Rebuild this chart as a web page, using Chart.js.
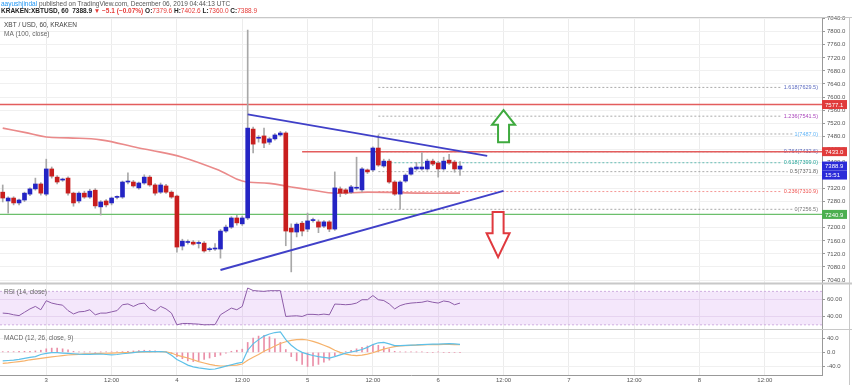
<!DOCTYPE html>
<html>
<head>
<meta charset="utf-8">
<script src="https://cdn.jsdelivr.net/npm/chart.js@4.4.0/dist/chart.umd.min.js"></script>
<style>
  html, body { margin: 0; padding: 0; background: #fff; }
  #wrap { position: relative; width: 852px; height: 385px; }
</style>
</head>
<body>
<div id="wrap"><canvas id="chart" width="852" height="385"></canvas></div>
<script>
// Hourly candles, Dec 2 16:00 -> Dec 6 04:00 (KRAKEN XBTUSD, 60)
const opens  = [7309,7282,7291,7276,7285,7303,7319,7334,7303,7380,7355,7346,7352,7306,7282,7306,7294,7315,7264,7282,7276,7293,7294,7340,7340,7322,7337,7355,7331,7309,7328,7309,7297,7144,7155,7156,7152,7153,7133,7135,7135,7190,7202,7230,7212,7230,7502,7474,7481,7462,7472,7484,7490,7199,7187,7214,7196,7222,7218,7205,7218,7196,7319,7316,7309,7321,7316,7377,7377,7444,7389,7404,7340,7303,7343,7364,7380,7380,7380,7404,7398,7380,7407,7401,7379.6];
const highs  = [7331,7295,7295,7288,7309,7322,7352,7338,7410,7386,7360,7352,7356,7309,7310,7312,7318,7320,7283,7286,7294,7298,7343,7368,7345,7340,7362,7360,7335,7337,7333,7313,7300,7165,7163,7161,7160,7158,7140,7152,7195,7208,7234,7238,7236,7805,7508,7482,7505,7476,7488,7495,7494,7212,7215,7220,7245,7230,7224,7222,7222,7371,7325,7320,7330,7416,7384,7380,7448,7484,7410,7410,7344,7344,7365,7386,7400,7430,7410,7410,7403,7416,7425,7406,7402.6];
const lows   = [7279,7245,7270,7270,7280,7298,7315,7300,7298,7352,7334,7342,7300,7266,7276,7290,7290,7260,7239,7264,7270,7288,7290,7334,7324,7318,7333,7327,7300,7305,7305,7290,7125,7132,7150,7147,7138,7125,7128,7131,7107,7186,7198,7208,7207,7225,7429,7462,7445,7455,7468,7480,7145,7065,7172,7175,7188,7217,7185,7200,7188,7192,7295,7302,7305,7316,7310,7366,7372,7388,7385,7336,7299,7257,7339,7361,7376,7376,7376,7390,7355,7376,7394,7370,7360.0];
const closes = [7291,7291,7276,7285,7306,7319,7334,7306,7380,7358,7340,7349,7306,7276,7306,7294,7312,7267,7279,7270,7291,7295,7340,7341,7328,7337,7355,7331,7306,7331,7309,7294,7141,7159,7157,7150,7154,7129,7136,7137,7190,7202,7230,7215,7230,7505,7456,7476,7459,7472,7484,7490,7190,7187,7211,7190,7221,7224,7202,7218,7196,7322,7306,7306,7325,7323,7380,7371,7444,7392,7404,7340,7303,7340,7361,7383,7386,7386,7404,7395,7380,7404,7398,7380,7388.9];

// MA(100, close) read at a few candles
const maIndex = [0,4,8,12,18,25,27,33,40,44,49,53,57,61,67,77,84];
const maValue = [7505,7492,7478,7475,7469,7444,7438,7416,7374,7343,7336,7325,7315,7306,7309,7306,7306];

const rsiValues = [44,43.5,42,41,45,49,52,48,58.8,56,54.5,53.5,47,43,45.5,46,48,42,44,44,45.5,47,54,55,52,55,56,49,46.5,52,49,44,30,31.6,31.6,31.2,30.8,30,30.2,30.2,42,46,50,48,52,74,71,70.4,70,70.8,70.8,70.8,40,40.5,40.8,40,42.5,42.5,42,42.8,42,54.8,54.5,54,54.5,56,60,60,65,60,59,55,49,53,55,56,56.5,57,58.5,57,56,58.5,57.5,54,56];
const macdLine  = [-24,-23,-22,-20,-17,-14,-12,-6,-3,-1,-1,-2,-3,-4,-5,-5.6,-5.5,-5,-4.7,-6,-7,-6,-4,-2.5,-0.5,1.5,2,2,2,2,1,-8,-20,-28,-36,-41,-44,-46,-48,-47,-43,-39,-35,-31,-28,6,24,36,46,52,56,58,36,20,8,0,-5,-9,-12,-14,-16,-12,-7,-2,1,4,8,14,22,27,28,24,19,19,20,20.5,21,22,22.5,23,23.5,24,24.5,24,22.5];
const signalLine = [-31,-30,-28,-26,-24,-21,-19,-17,-15,-13,-11,-9,-7.5,-6.5,-5.5,-4.5,-4,-3.5,-3,-2.5,-2,-1.5,-1,-0.5,0,0.5,1,1.5,1.8,1.9,1.5,-2,-8,-12,-16,-21,-26,-30,-34,-37,-38.5,-38,-37,-36,-33,-22,-14,-6,3,10,18,25,30,34,36,36.5,35,31,26,20,14,6,0,-5,-8,-9.5,-8,-5,-1,4,9,13,16,18,19,20,20.5,21,21.5,22,22,22.5,22.5,22,21.5];
const macdHist = [2,2,2,3,3,3,4,6,10,12,12,10,7,3,1,1,1,0,1,1,1,1,2,3,4,5,6,5,4,2,1,-3,-12,-18,-24,-26,-24,-20,-16,-12,-8,-2,3,6,9,28,40,46,48,44,38,28,8,-12,-24,-34,-40,-38,-34,-28,-22,-10,-2,2,6,10,14,18,22,20,16,10,3,1,1,1,1,1,0,0,1,0,0,0,0];

// Drawn levels and trendlines
const triUpper = [[45, 7547], [89, 7420]];
const triLower = [[40, 7071], [92, 7313]];
const fibLabels = ['1.618','1.236','1','0.764','0.618','0.5','0.236','0'];
const fibPrices = [7629.5, 7541.5, 7487.0, 7432.6, 7399.0, 7371.8, 7310.9, 7256.5];
const fibStart = 69;
const resistLevels = [7577.1, 7433.0];
const resistStart = [0, 55];
const supportLevel = 7240.9;
const lastPrice = 7388.9;
const rsiBand = [30, 70];
const upArrow = { index: 92, top: 7560, bottom: 7462 };
const downArrow = { index: 91, top: 7248, bottom: 7110 };

// Axis
const priceMin = 7031, priceMax = 7845;
const rsiTicks = [40, 60];
const macdTicks = [-40, 0, 40];
const tickIndex = [8, 20, 32, 44, 56, 68, 80, 92, 104, 116, 128, 140];
const tickText  = ['3','12:00','4','12:00','5','12:00','6','12:00','7','12:00','8','12:00'];

const categories = [];
for (let i = 0; i < 151; i++) {
  const h = 16 + i;
  categories.push('Dec ' + (2 + Math.floor(h / 24)) + ' ' + String(h % 24).padStart(2, '0') + ':00');
}

const BLUE = '#2424c4', RED = '#c81e1e';
const FONT = '"Liberation Sans", Arial, sans-serif';
const candleColors = closes.map((c, i) => c >= opens[i] ? BLUE : RED);
const pts = arr => arr.map(p => ({ x: categories[p[0]], y: p[1] }));

const overlay = {
  id: 'overlay',
  beforeDatasetsDraw(chart) {
    const { ctx, chartArea: a, scales } = chart;
    const x = scales.x, y = scales.y, r = scales.yRsi;
    ctx.save();
    // RSI band
    const bt = r.getPixelForValue(rsiBand[1]), bb = r.getPixelForValue(rsiBand[0]);
    ctx.fillStyle = 'rgba(214,170,240,0.28)';
    ctx.fillRect(a.left, bt, a.right - a.left, bb - bt);
    ctx.strokeStyle = '#cfaee0';
    ctx.lineWidth = 1;
    ctx.setLineDash([2, 2]);
    [bt, bb].forEach(py => { ctx.beginPath(); ctx.moveTo(a.left, py); ctx.lineTo(a.right, py); ctx.stroke(); });

    // fib levels
    const fibColors = ['#5c6bc0','#ab47bc','#64b5f6','#5c6bc0','#26a69a','#666','#ef5350','#777'];
    ctx.font = '5.5px ' + FONT;
    ctx.textAlign = 'right';
    ctx.textBaseline = 'middle';
    fibPrices.forEach((p, k) => {
      const py = y.getPixelForValue(p);
      const txt = fibLabels[k] + '(' + p.toFixed(1) + ')';
      const tx = a.right - 4;
      const w = ctx.measureText(txt).width;
      ctx.strokeStyle = 'rgba(150,150,150,0.8)';
      if (k === 4) ctx.strokeStyle = 'rgba(38,166,154,0.7)';
      if (k === 6) ctx.strokeStyle = 'rgba(239,83,80,0.6)';
      ctx.beginPath();
      ctx.moveTo(x.getPixelForValue(fibStart), py);
      ctx.lineTo(tx - w - 2, py);
      ctx.stroke();
      ctx.fillStyle = fibColors[k];
      ctx.fillText(txt, tx, py);
    });
    ctx.setLineDash([]);

    // horizontal resistance / support
    ctx.lineWidth = 1.5;
    ctx.strokeStyle = '#e35d5d';
    resistLevels.forEach((p, k) => {
      const py = y.getPixelForValue(p);
      const x0 = resistStart[k] === 0 ? a.left : x.getPixelForValue(resistStart[k]);
      ctx.beginPath(); ctx.moveTo(x0, py); ctx.lineTo(a.right, py); ctx.stroke();
    });
    ctx.lineWidth = 1.2;
    ctx.strokeStyle = '#6cbf6c';
    const sy = y.getPixelForValue(supportLevel);
    ctx.beginPath(); ctx.moveTo(a.left, sy); ctx.lineTo(a.right, sy); ctx.stroke();
    ctx.restore();
  },
  afterDraw(chart) {
    const { ctx, chartArea: a, scales } = chart;
    const x = scales.x, y = scales.y;
    ctx.save();

    // arrows
    const arrow = (ar, up, color) => {
      const cx = x.getPixelForValue(ar.index);
      const top = y.getPixelForValue(ar.top), bot = y.getPixelForValue(ar.bottom);
      const hw = 11.5, sw = 5.5;
      ctx.beginPath();
      if (up) {
        const hb = top + (bot - top) * 0.46;
        ctx.moveTo(cx, top); ctx.lineTo(cx + hw, hb); ctx.lineTo(cx + sw, hb); ctx.lineTo(cx + sw, bot);
        ctx.lineTo(cx - sw, bot); ctx.lineTo(cx - sw, hb); ctx.lineTo(cx - hw, hb);
      } else {
        const hb = top + (bot - top) * 0.47;
        ctx.moveTo(cx, bot); ctx.lineTo(cx + hw, hb); ctx.lineTo(cx + sw, hb); ctx.lineTo(cx + sw, top);
        ctx.lineTo(cx - sw, top); ctx.lineTo(cx - sw, hb); ctx.lineTo(cx - hw, hb);
      }
      ctx.closePath();
      ctx.fillStyle = '#fff';
      ctx.fill();
      ctx.lineWidth = 2;
      ctx.strokeStyle = color;
      ctx.stroke();
    };
    arrow(upArrow, true, '#3faa3f');
    arrow(downArrow, false, '#e0393e');

    // pane separators and frame
    ctx.strokeStyle = '#c8c8c8';
    ctx.lineWidth = 1;
    [a.top, scales.yRsi.top, scales.yMacd.top].forEach((py, k) => {
      ctx.lineWidth = k === 1 ? 2 : 1;
      ctx.beginPath(); ctx.moveTo(0, Math.round(py) + 0.5); ctx.lineTo(852, Math.round(py) + 0.5); ctx.stroke();
    });
    ctx.lineWidth = 1;
    ctx.beginPath(); ctx.moveTo(849.5, a.top); ctx.lineTo(849.5, 385); ctx.stroke();

    // price boxes on axis
    ctx.font = '6px ' + FONT;
    ctx.textAlign = 'left';
    ctx.textBaseline = 'middle';
    const box = (py, bg, txt) => {
      ctx.fillStyle = bg;
      ctx.fillRect(a.right, py - 4.5, 25, 9);
      ctx.fillStyle = '#fff';
      ctx.fillText(txt, a.right + 3, py + 0.5);
    };
    box(y.getPixelForValue(resistLevels[0]), '#e03b3b', resistLevels[0].toFixed(1));
    box(y.getPixelForValue(resistLevels[1]), '#e03b3b', resistLevels[1].toFixed(1));
    const ly = y.getPixelForValue(lastPrice);
    box(ly, '#2b2bd8', lastPrice.toFixed(1));
    box(ly + 9, '#2b2bd8', '15:51');
    box(y.getPixelForValue(supportLevel), '#4caf50', supportLevel.toFixed(1));

    // pane titles
    ctx.fillStyle = '#444';
    ctx.font = '6.5px ' + FONT;
    ctx.fillText('XBT / USD, 60, KRAKEN', 4, a.top + 8);
    ctx.fillStyle = '#666';
    ctx.fillText('MA (100, close)', 4, a.top + 17);
    ctx.fillText('RSI (14, close)', 4, scales.yRsi.top + 9);
    ctx.fillText('MACD (12, 26, close, 9)', 4, scales.yMacd.top + 9);

    // header
    ctx.font = '6.5px ' + FONT;
    ctx.fillStyle = '#2196f3';
    ctx.fillText('aayushjindal', 1, 4);
    let w = ctx.measureText('aayushjindal ').width;
    ctx.fillStyle = '#555';
    ctx.fillText('published on TradingView.com, December 06, 2019 04:44:13 UTC', 1 + w, 4);
    const segs = [
      ['KRAKEN:XBTUSD, 60  ', '#222', true], ['7388.9 ', '#222', true], ['▼ −5.1 (−0.07%) ', '#e53935', true],
      ['O:', '#222', true], ['7379.6 ', '#e53935', false], ['H:', '#222', true], ['7402.6 ', '#e53935', false],
      ['L:', '#222', true], ['7360.0 ', '#e53935', false], ['C:', '#222', true], ['7388.9', '#e53935', false]
    ];
    let cx = 1;
    segs.forEach(s => {
      ctx.font = (s[2] ? 'bold ' : '') + '6.5px ' + FONT;
      ctx.fillStyle = s[1];
      ctx.fillText(s[0], cx, 11);
      cx += ctx.measureText(s[0]).width;
    });
    ctx.restore();
  }
};

new Chart(document.getElementById('chart'), {
  type: 'bar',
  data: {
    labels: categories,
    datasets: [
      { type: 'line', data: pts(maIndex.map((i, k) => [i, maValue[k]])), yAxisID: 'y', borderColor: '#ea8a8a',
        borderWidth: 1.6, pointRadius: 0, tension: 0.4, spanGaps: true, order: 5 },
      { data: lows.map((l, i) => [l, highs[i]]), yAxisID: 'y', backgroundColor: '#a8a8a8',
        barThickness: 1, grouped: false, order: 4 },
      { data: opens.map((o, i) => [o, closes[i]]), yAxisID: 'y', backgroundColor: candleColors,
        barThickness: 4, minBarLength: 1, grouped: false, order: 3 },
      { type: 'line', data: pts(triUpper), yAxisID: 'y', borderColor: '#4040c8', borderWidth: 2, pointRadius: 0, order: 1 },
      { type: 'line', data: pts(triLower), yAxisID: 'y', borderColor: '#4040c8', borderWidth: 2, pointRadius: 0, order: 1 },
      { type: 'line', data: rsiValues, yAxisID: 'yRsi', borderColor: '#8d5ca8', borderWidth: 1, pointRadius: 0, order: 1 },
      { data: macdHist, yAxisID: 'yMacd', backgroundColor: '#ea8fa8', barThickness: 1, grouped: false, order: 3 },
      { type: 'line', data: signalLine, yAxisID: 'yMacd', borderColor: '#f6b26b', borderWidth: 1.2, pointRadius: 0, order: 2 },
      { type: 'line', data: macdLine, yAxisID: 'yMacd', borderColor: '#5ec0e8', borderWidth: 1.2, pointRadius: 0, order: 1 }
    ]
  },
  options: {
    responsive: false,
    animation: false,
    devicePixelRatio: 1,
    layout: { padding: { top: 17, left: 0, right: 0, bottom: 0 } },
    plugins: { legend: { display: false }, tooltip: { enabled: false } },
    scales: {
      x: {
        offset: true,
        grid: { offset: false, color: '#ececec', drawTicks: false },
        border: { color: '#999' },
        afterBuildTicks: s => { s.ticks = tickIndex.map(v => ({ value: v })); },
        afterFit: s => { s.height = 10; },
        ticks: { autoSkip: false, maxRotation: 0, padding: 2, color: '#555', font: { size: 6, family: FONT },
          callback: v => tickText[tickIndex.indexOf(v)] }
      },
      y: {
        position: 'right', stack: 'panes', stackWeight: 266, min: priceMin, max: priceMax,
        grid: { color: '#f0f0f0', tickLength: 3, tickColor: '#999' },
        border: { color: '#999' },
        afterFit: s => { s.width = 30; },
        ticks: { stepSize: 40, autoSkip: false, includeBounds: false, padding: 2, color: '#555',
          font: { size: 6, family: FONT }, callback: v => v.toFixed(1) }
      },
      yRsi: {
        position: 'right', stack: 'panes', stackWeight: 46, min: 25, max: 80,
        grid: { color: '#ece4f0', tickLength: 3, tickColor: '#999' },
        border: { color: '#999' },
        afterFit: s => { s.width = 30; },
        afterBuildTicks: s => { s.ticks = rsiTicks.map(v => ({ value: v })); },
        ticks: { autoSkip: false, padding: 2, color: '#555', font: { size: 6, family: FONT }, callback: v => v.toFixed(2) }
      },
      yMacd: {
        position: 'right', stack: 'panes', stackWeight: 46, min: -64, max: 66,
        grid: { color: '#f0f0f0', tickLength: 3, tickColor: '#999' },
        border: { color: '#999' },
        afterFit: s => { s.width = 30; },
        afterBuildTicks: s => { s.ticks = macdTicks.map(v => ({ value: v })); },
        ticks: { autoSkip: false, padding: 2, color: '#555', font: { size: 6, family: FONT }, callback: v => v.toFixed(1) }
      }
    }
  },
  plugins: [overlay]
});
</script>
</body>
</html>
